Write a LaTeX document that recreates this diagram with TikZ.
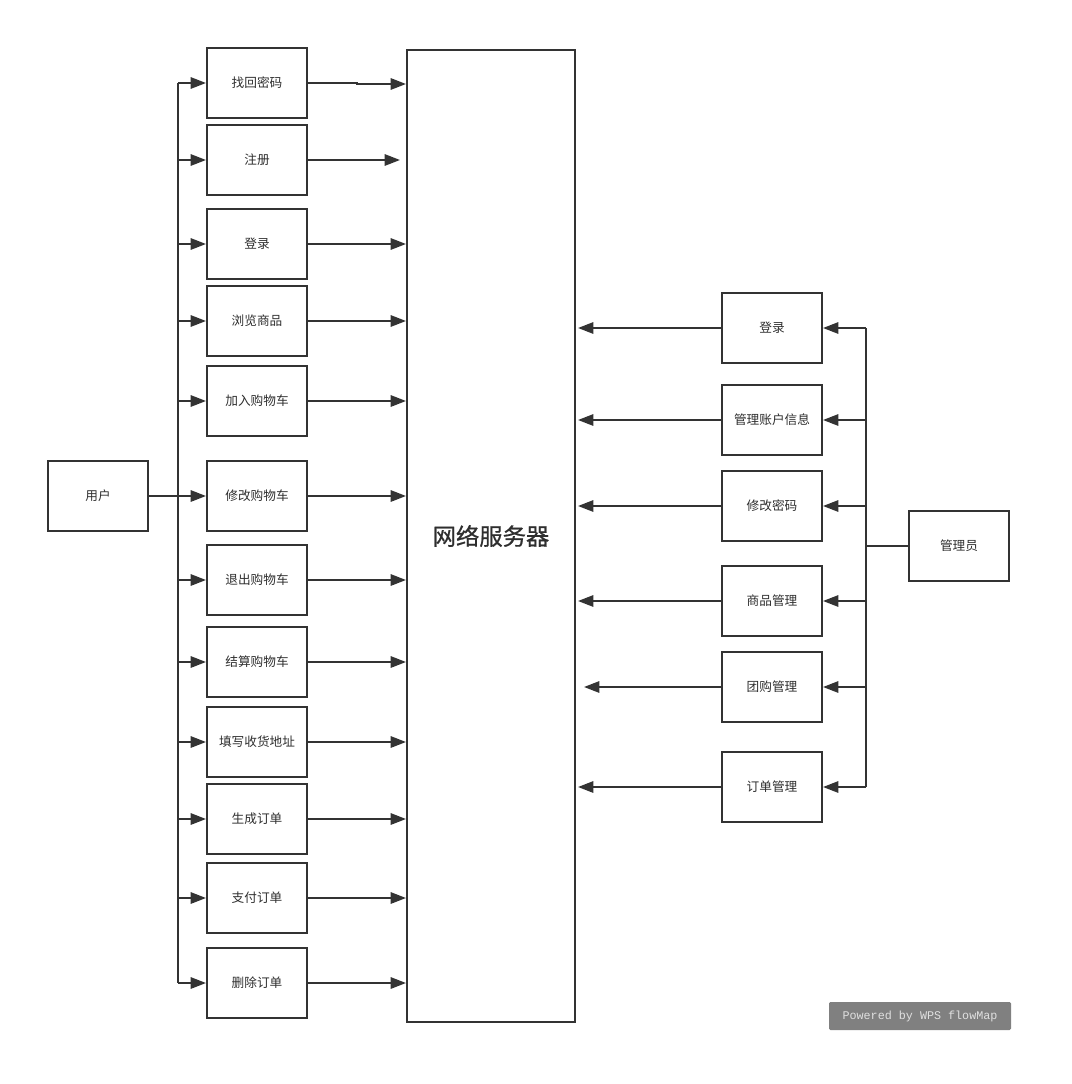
\documentclass[tikz,border=0pt]{standalone}
\usepackage{fontspec}
\setmainfont{Noto Sans CJK SC}
\newfontfamily\srvfont{Noto Sans CJK SC}[FakeBold=0.8]
\newfontfamily\wmfont{Liberation Mono}
\usetikzlibrary{arrows.meta}
\definecolor{ink}{HTML}{333333}
\tikzset{
	box/.style={draw=ink,line width=1.5pt,minimum width=75pt,minimum height=52.5pt,inner sep=0pt,text=ink!90!black,font=\fontsize{9.5pt}{11pt}\selectfont},
	link/.style={draw=ink,line width=1.5pt},
	arr/.style={link,-{Triangle[length=11.5pt,width=8.5pt]}}
}
\begin{document}
\begin{tikzpicture}[x=0.75pt,y=-0.75pt]
				\useasboundingbox(0,0)rectangle(1071,1084);
				% server
				\node[box,minimum width=126pt,minimum height=729pt,font=\srvfont\fontsize{17.5pt}{20pt}\selectfont](srv)at(491,536){网络服务器};
				% user side
				\node[box](user)at(98,496){用户};
				\node[box](u1)at(257,83){找回密码};
				\node[box](u2)at(257,160){注册};
				\node[box](u3)at(257,244){登录};
				\node[box](u4)at(257,321){浏览商品};
				\node[box](u5)at(257,401){加入购物车};
				\node[box](u6)at(257,496){修改购物车};
				\node[box](u7)at(257,580){退出购物车};
				\node[box](u8)at(257,662){结算购物车};
				\node[box](u9)at(257,742){填写收货地址};
				\node[box](u10)at(257,819){生成订单};
				\node[box](u11)at(257,898){支付订单};
				\node[box](u12)at(257,983){删除订单};
				\coordinate(ubus)at(178,496);
				\draw[link](user.east)--(ubus);
				\draw[link](ubus|-u1.west)--(ubus|-u12.west);
				\draw[arr](ubus|-u1.west)--(u1.west);
				\draw[arr](ubus|-u2.west)--(u2.west);
				\draw[arr](ubus|-u3.west)--(u3.west);
				\draw[arr](ubus|-u4.west)--(u4.west);
				\draw[arr](ubus|-u5.west)--(u5.west);
				\draw[arr](ubus|-u6.west)--(u6.west);
				\draw[arr](ubus|-u7.west)--(u7.west);
				\draw[arr](ubus|-u8.west)--(u8.west);
				\draw[arr](ubus|-u9.west)--(u9.west);
				\draw[arr](ubus|-u10.west)--(u10.west);
				\draw[arr](ubus|-u11.west)--(u11.west);
				\draw[arr](ubus|-u12.west)--(u12.west);
				\coordinate(kink)at(357,84);
				\draw[arr](u1.east)--(kink|-u1.east)--(kink)--(kink-|srv.west);
				\draw[arr](u2.east)--([xshift=-4.5pt]u2.east-|srv.west);
				\draw[arr](u3.east)--(u3.east-|srv.west);
				\draw[arr](u4.east)--(u4.east-|srv.west);
				\draw[arr](u5.east)--(u5.east-|srv.west);
				\draw[arr](u6.east)--(u6.east-|srv.west);
				\draw[arr](u7.east)--(u7.east-|srv.west);
				\draw[arr](u8.east)--(u8.east-|srv.west);
				\draw[arr](u9.east)--(u9.east-|srv.west);
				\draw[arr](u10.east)--(u10.east-|srv.west);
				\draw[arr](u11.east)--(u11.east-|srv.west);
				\draw[arr](u12.east)--(u12.east-|srv.west);
				% admin side
				\node[box](adm)at(959,546){管理员};
				\node[box](a1)at(772,328){登录};
				\node[box](a2)at(772,420){管理账户信息};
				\node[box](a3)at(772,506){修改密码};
				\node[box](a4)at(772,601){商品管理};
				\node[box](a5)at(772,687){团购管理};
				\node[box](a6)at(772,787){订单管理};
				\coordinate(abus)at(866,546);
				\draw[link](adm.west)--(abus);
				\draw[link](abus|-a1.east)--(abus|-a6.east);
				\draw[arr](abus|-a1.east)--(a1.east);
				\draw[arr](abus|-a2.east)--(a2.east);
				\draw[arr](abus|-a3.east)--(a3.east);
				\draw[arr](abus|-a4.east)--(a4.east);
				\draw[arr](abus|-a5.east)--(a5.east);
				\draw[arr](abus|-a6.east)--(a6.east);
				\draw[arr](a1.west)--([xshift=1.5pt]a1.west-|srv.east);
				\draw[arr](a2.west)--([xshift=1.5pt]a2.west-|srv.east);
				\draw[arr](a3.west)--([xshift=1.5pt]a3.west-|srv.east);
				\draw[arr](a4.west)--([xshift=1.5pt]a4.west-|srv.east);
				\draw[arr](a5.west)--([xshift=6pt]a5.west-|srv.east);
				\draw[arr](a6.west)--([xshift=1.5pt]a6.west-|srv.east);
				% watermark
				\node[fill=gray,rounded corners=1pt,minimum width=136.5pt,minimum height=21pt,text=black!12,font=\wmfont\fontsize{8.8pt}{10pt}\selectfont](wm)at(920,1016){Powered by WPS flowMap};
			\end{tikzpicture}
\end{document}
